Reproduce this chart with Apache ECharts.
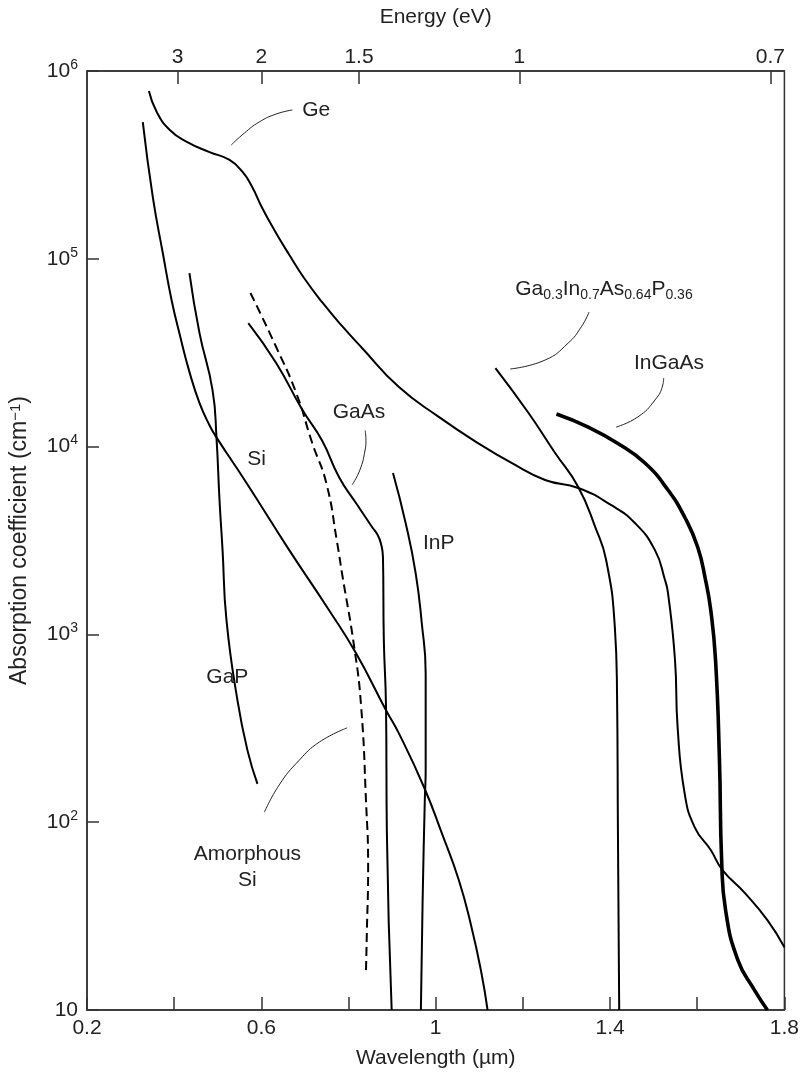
<!DOCTYPE html>
<html>
<head>
<meta charset="utf-8">
<script src="https://cdn.jsdelivr.net/npm/echarts@6/dist/echarts.min.js"></script>
<style>
  html, body { margin: 0; padding: 0; background: #fff; }
  #chart { width: 802px; height: 1076px; }
</style>
</head>
<body>
<div id="chart"></div>
<script>
// Optical absorption coefficient (cm^-1) of semiconductors vs. wavelength (µm)
const geCurve = [[0.342,7.83e5],[0.360,6.05e5],[0.390,4.85e5],[0.429,4.19e5],[0.481,3.70e5],[0.527,3.36e5],[0.557,2.90e5],[0.579,2.41e5],[0.602,1.865e5],[0.630,1.42e5],[0.664,1.05e5],[0.698,7.90e4],[0.739,5.89e4],[0.785,4.39e4],[0.831,3.35e4],[0.915,2.08e4],[1.007,1.44e4],[1.098,1.04e4],[1.174,8.18e3],[1.251,6.64e3],[1.327,6.02e3],[1.402,4.89e3],[1.457,3.92e3],[1.503,2.81e3],[1.526,1.95e3],[1.533,1.66e3],[1.549,731],[1.555,321],[1.571,143],[1.594,94.2],[1.631,71.1],[1.658,55.6],[1.709,42.0],[1.761,30.1],[1.800,21.6]];
const siCurve = [[0.328,5.35e5],[0.351,2.13e5],[0.374,1.07e5],[0.394,6.04e4],[0.413,3.93e4],[0.435,2.50e4],[0.458,1.71e4],[0.481,1.30e4],[0.497,1.12e4],[0.566,6.40e3],[0.664,2.81e3],[0.755,1.35e3],[0.817,796],[0.886,395],[0.915,299],[0.973,154],[1.014,87.5],[1.053,49.2],[1.082,27.7],[1.105,15.7],[1.119,10]];
const gapCurve = [[0.435,8.40e4],[0.458,4.03e4],[0.488,2.00e4],[0.497,1.12e4],[0.504,5.20e3],[0.511,2.81e3],[0.520,1.19e3],[0.545,448],[0.568,242],[0.591,160]];
const gaasCurve = [[0.570,4.55e4],[0.634,2.79e4],[0.694,1.57e4],[0.739,1.08e4],[0.778,6.89e3],[0.817,5.01e3],[0.854,3.73e3],[0.867,3.38e3],[0.874,3.07e3],[0.879,2.58e3],[0.881,933],[0.886,411],[0.888,87.5],[0.899,10]];
const inpCurve = [[0.902,7.23e3],[0.931,3.92e3],[0.954,2.12e3],[0.968,1.15e3],[0.977,622],[0.977,190],[0.975,131],[0.970,38.5],[0.966,10]];
const amorphousSiCurve = [[0.575,6.58e4],[0.634,3.39e4],[0.680,1.93e4],[0.717,1.04e4],[0.749,6.40e3],[0.774,3.07e3],[0.785,2.12e3],[0.813,857],[0.829,411],[0.840,131],[0.845,57.7],[0.842,25.7],[0.840,15.9]];
const gaInAsPCurve = [[1.137,2.62e4],[1.213,1.51e4],[1.274,9.25e3],[1.327,6.10e3],[1.366,3.73e3],[1.391,2.49e3],[1.411,1.09e3],[1.416,488],[1.418,94.2],[1.421,10]];
const inGaAsCurve = [[1.277,1.49e4],[1.350,1.27e4],[1.418,1.04e4],[1.480,8.18e3],[1.533,5.87e3],[1.571,4.22e3],[1.601,2.92e3],[1.619,1.95e3],[1.631,1.35e3],[1.642,731],[1.651,214],[1.656,62.9],[1.665,34.1],[1.693,18.5],[1.731,12.8],[1.761,10]];

// Bottom axis labels (µm) and top axis photon-energy labels (eV) with their wavelength positions
const wavelengthLabels = ['0.2', '0.6', '1', '1.4', '1.8'];
const energyLabels = ['3', '2', '1.5', '1', '0.7'];
const energyTickWavelengths = [0.408, 0.600, 0.824, 1.192, 1.768];

// Curve names and the leader lines pointing to them
const curveNames = [
  { text: 'Ge', at: [0.726, 6.2e5] },
  { text: 'Si', at: [0.589, 8.6e3] },
  { text: 'GaAs', at: [0.824, 1.53e4] },
  { text: 'InP', at: [1.007, 3.07e3] },
  { text: 'GaP', at: [0.522, 593] },
  { text: 'Amorphous\nSi', at: [0.568, 57.7] },
  { text: 'Ga{s|0.3}In{s|0.7}As{s|0.64}P{s|0.36}', at: [1.386, 6.9e4] },
  { text: 'InGaAs', at: [1.535, 2.79e4] }
];
const leaderLines = [
  [[0.531,4.04e5],[0.561,4.67e5],[0.595,5.35e5],[0.634,5.90e5],[0.671,6.20e5]],
  [[0.808,6.25e3],[0.826,7.50e3],[0.838,9.59e3],[0.840,1.08e4],[0.838,1.22e4]],
  [[0.797,318],[0.733,267],[0.687,214],[0.641,158],[0.607,113]],
  [[1.171,2.59e4],[1.251,2.89e4],[1.304,3.56e4],[1.334,4.34e4],[1.352,5.21e4]],
  [[1.414,1.27e4],[1.464,1.44e4],[1.503,1.77e4],[1.521,2.13e4],[1.523,2.32e4]]
];

const FONT = "'Liberation Sans', Arial, Helvetica, sans-serif";
const TEXT = '#222';
const AXIS = '#333';
const FS = 21;
const SUB = 14;

function curve(name, data, width, dashed) {
  return {
    name, type: 'line', data, xAxisIndex: 0, yAxisIndex: 0,
    showSymbol: false, symbol: 'none', smooth: 0.5, silent: true,
    lineStyle: { color: '#000', width, type: dashed ? [9, 5] : 'solid' },
    z: 3
  };
}

const series = [
  curve('Ge', geCurve, 2),
  curve('Si', siCurve, 2),
  curve('GaP', gapCurve, 2),
  curve('GaAs', gaasCurve, 2),
  curve('InP', inpCurve, 2),
  curve('Amorphous Si', amorphousSiCurve, 2, true),
  curve('GaInAsP', gaInAsPCurve, 2),
  curve('InGaAs', inGaAsCurve, 3.6)
];

leaderLines.forEach((pts, i) => {
  series.push({
    name: 'leader' + i, type: 'line', data: pts, showSymbol: false, symbol: 'none',
    smooth: 0.5, silent: true, lineStyle: { color: '#222', width: 1 }, z: 2
  });
});

series.push({
  name: 'names', type: 'scatter', silent: true, symbolSize: 0,
  itemStyle: { color: 'rgba(0,0,0,0)', opacity: 1 },
  data: curveNames.map(c => ({ value: c.at, label: { formatter: c.text } })),
  label: {
    show: true, position: 'inside', color: TEXT, fontFamily: FONT, fontSize: FS,
    lineHeight: 26, align: 'center', verticalAlign: 'middle', opacity: 1,
    rich: {
      s: { fontSize: SUB, fontFamily: FONT, color: TEXT, verticalAlign: 'bottom', lineHeight: 14 }
    }
  },
  z: 5
});

const chart = echarts.init(document.getElementById('chart'), null, { renderer: 'canvas' });
chart.setOption({
  animation: false,
  backgroundColor: '#fff',
  textStyle: { fontFamily: FONT },
  grid: { left: 87, right: 15, top: 71, bottom: 66, show: true, borderColor: AXIS, borderWidth: 1.5, backgroundColor: 'transparent' },
  xAxis: [
    {
      type: 'value', position: 'bottom', min: 0.2, max: 1.8, interval: 0.2,
      name: 'Wavelength (µm)', nameLocation: 'middle', nameGap: 38,
      nameTextStyle: { fontSize: FS, color: TEXT, fontFamily: FONT },
      axisLine: { show: true, onZero: false, lineStyle: { color: AXIS, width: 1.5 } },
      axisTick: { show: true, inside: true, length: 13, lineStyle: { color: AXIS, width: 1.5 } },
      axisLabel: {
        show: true, margin: 8, fontSize: FS, color: TEXT, fontFamily: FONT,
        showMinLabel: true, showMaxLabel: true,
        formatter: v => {
          const k = Math.round((v - 0.2) * 10);
          return k % 4 === 0 ? wavelengthLabels[k / 4] : '';
        }
      },
      splitLine: { show: false }
    },
    {
      type: 'value', position: 'top', min: 0.2, max: 1.8,
      name: 'Energy (eV)', nameLocation: 'middle', nameGap: 43,
      nameTextStyle: { fontSize: FS, color: TEXT, fontFamily: FONT },
      axisLine: { show: true, onZero: false, lineStyle: { color: AXIS, width: 1.5 } },
      axisTick: { show: true, inside: true, length: 13, customValues: energyTickWavelengths, lineStyle: { color: AXIS, width: 1.5 } },
      axisLabel: {
        show: true, margin: 3, fontSize: FS, color: TEXT, fontFamily: FONT,
        customValues: energyTickWavelengths,
        formatter: v => {
          let best = 0;
          energyTickWavelengths.forEach((w, i) => { if (Math.abs(w - v) < Math.abs(energyTickWavelengths[best] - v)) best = i; });
          return energyLabels[best];
        }
      },
      splitLine: { show: false }
    }
  ],
  yAxis: {
    type: 'log', logBase: 10, min: 10, max: 1e6,
    name: 'Absorption coefficient (cm{sup|−1})', nameLocation: 'middle', nameGap: 56, nameRotate: 90,
    nameTextStyle: {
      fontSize: 23, color: TEXT, fontFamily: FONT,
      rich: { sup: { fontSize: 15, color: TEXT, fontFamily: FONT, verticalAlign: 'top', lineHeight: 15 } }
    },
    axisLine: { show: true, onZero: false, lineStyle: { color: AXIS, width: 1.5 } },
    axisTick: { show: true, inside: true, length: 12, lineStyle: { color: AXIS, width: 1.5 } },
    axisLabel: {
      show: true, margin: 9, color: TEXT, fontFamily: FONT,
      formatter: v => {
        const e = Math.round(Math.log10(v));
        return e === 1 ? '{b|10}' : '{b|10}{sup|' + e + '}';
      },
      rich: {
        b: { fontSize: FS, color: TEXT, fontFamily: FONT, lineHeight: 26 },
        sup: { fontSize: SUB, color: TEXT, fontFamily: FONT, verticalAlign: 'top', lineHeight: 14 }
      }
    },
    splitLine: { show: false },
    minorTick: { show: false }
  },
  series
});
</script>
</body>
</html>
